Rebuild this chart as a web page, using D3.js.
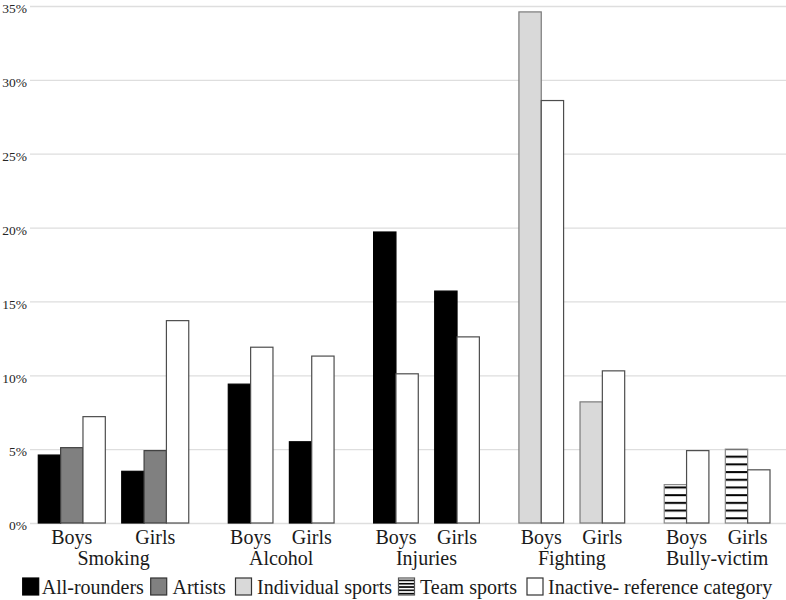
<!DOCTYPE html>
<html lang="en">
<head>
<meta charset="utf-8">
<title>Risk behaviours by activity profile</title>
<script src="https://d3js.org/d3.v7.min.js"></script>
</head>
<body style="margin:0; background:#fff">
<script type="text/javascript">

// Data - one value per group x sex, in the order Smoking Boys, Smoking Girls, Alcohol Boys, ...
const groups = ["Smoking", "Alcohol", "Injuries", "Fighting", "Bully-victim"];
const sexes = ["Boys", "Girls"];
const seriesNames = ["All-rounders", "Artists", "Individual sports", "Team sports", "Inactive- reference category"];

const allRounders      = [4.6, 3.5, 9.4, 5.5, 19.7, 15.7, null, null, null, null];
const artists          = [5.1, 4.9, null, null, null, null, null, null, null, null];
const individualSports = [null, null, null, null, null, null, 34.6, 8.2, null, null];
const teamSports       = [null, null, null, null, null, null, null, null, 2.6, 5.0];
const inactive         = [7.2, 13.7, 11.9, 11.3, 10.1, 12.6, 28.6, 10.3, 4.9, 3.6];

const yTicks = [0, 5, 10, 15, 20, 25, 30, 35];

// Consts
const w = 786;
const h = 600;
const serif = "'Liberation Serif'";
const seriesValues = [allRounders, artists, individualSports, teamSports, inactive];
const fills = ["#000000", "#808080", "#d9d9d9", "url(#stripes)", "#ffffff"];
const strokes = ["#000000", "#404040", "#7a7a7a", "#8a8a8a", "#4d4d4d"];
const smallGap = 0.735; // gap between Boys and Girls, in bar widths
const bigGap = 1.77;    // gap between groups, in bar widths

// layout in bar-width units
const bars = [];
const sexCenters = [];
const groupCenters = [];
let u = 0;
groups.forEach((g, gi) => {
    const gStart = u;
    sexes.forEach((s, si) => {
        if (si > 0) u += smallGap;
        const sStart = u;
        seriesValues.forEach((vals, k) => {
            const v = vals[gi * 2 + si];
            if (v !== null) {
                bars.push({ series: k, value: v, u: u });
                u += 1;
            }
        });
        sexCenters.push({ label: s, u: (sStart + u) / 2 });
    });
    groupCenters.push({ label: g, u: (gStart + u) / 2 });
    if (gi < groups.length - 1) u += bigGap;
});
const totalUnits = u;

// scales
const xScale = d3.scaleLinear()
    .domain([0, totalUnits])
    .range([38.3, 770]);

const yScale = d3.scaleLinear()
    .domain([0, 35])
    .range([523, 6]);

// SVG
const svg = d3.select("body")
    .append("svg")
    .attr("width", w)
    .attr("height", h)
    .style("display", "block");

// stripe patterns for Team sports
const defs = svg.append("defs");
const stripes = defs.append("pattern")
    .attr("id", "stripes")
    .attr("patternUnits", "userSpaceOnUse")
    .attr("x", 0)
    .attr("y", yScale(0))
    .attr("width", 8)
    .attr("height", 7.7);
stripes.append("rect").attr("width", 8).attr("height", 7.7).attr("fill", "#fff");
stripes.append("rect").attr("y", 2).attr("width", 8).attr("height", 2).attr("fill", "#000");

const legStripes = defs.append("pattern")
    .attr("id", "legstripes")
    .attr("patternUnits", "userSpaceOnUse")
    .attr("x", 0)
    .attr("y", 578)
    .attr("width", 8)
    .attr("height", 3.3);
legStripes.append("rect").attr("width", 8).attr("height", 3.3).attr("fill", "#fff");
legStripes.append("rect").attr("y", 1.6).attr("width", 8).attr("height", 1.6).attr("fill", "#000");

// gridlines + y labels
const leftAxis = d3.axisLeft(yScale)
    .tickValues(yTicks)
    .tickFormat(d => d + "%")
    .tickSize(-(w - 30))
    .tickPadding(3);

svg.append("g")
    .attr("transform", "translate(30,0)")
    .call(leftAxis)
    .call(g => g.select(".domain").remove())
    .call(g => g.selectAll(".tick line").attr("stroke", "#dedede").attr("stroke-width", 1.3))
    .call(g => g.selectAll("text")
        .attr("dy", "0.5em")
        .attr("fill", "#262626")
        .style("font-family", serif)
        .style("font-size", "13.5px"));

// bars
svg.append("g")
    .selectAll("rect")
    .data(bars)
    .join("rect")
    .attr("x", d => xScale(d.u))
    .attr("width", d => xScale(d.u + 1) - xScale(d.u))
    .attr("y", d => yScale(d.value))
    .attr("height", d => yScale(0) - yScale(d.value))
    .attr("fill", d => fills[d.series])
    .attr("stroke", d => strokes[d.series])
    .attr("stroke-width", 1.2);

// category labels
svg.append("g")
    .selectAll("text")
    .data(sexCenters)
    .join("text")
    .attr("x", d => xScale(d.u))
    .attr("y", 544)
    .attr("text-anchor", "middle")
    .attr("fill", "#1a1a1a")
    .style("font-family", serif)
    .style("font-size", "20px")
    .text(d => d.label);

svg.append("g")
    .selectAll("text")
    .data(groupCenters)
    .join("text")
    .attr("x", d => xScale(d.u))
    .attr("y", 565)
    .attr("text-anchor", "middle")
    .attr("fill", "#1a1a1a")
    .style("font-family", serif)
    .style("font-size", "20px")
    .text(d => d.label);

// legend
const legendX = [22.7, 150.7, 235.5, 398.5, 527];
const legendTextX = [41.7, 172.5, 257, 420, 548];
const legFills = ["#000000", "#808080", "#d9d9d9", "url(#legstripes)", "#ffffff"];
const legStrokes = ["#000000", "#333333", "#333333", "#555555", "#333333"];
const legend = svg.append("g");
seriesNames.forEach((name, i) => {
    legend.append("rect")
        .attr("x", legendX[i])
        .attr("y", 578)
        .attr("width", 16)
        .attr("height", 17)
        .attr("fill", legFills[i])
        .attr("stroke", legStrokes[i])
        .attr("stroke-width", 1.2);
    legend.append("text")
        .attr("x", legendTextX[i])
        .attr("y", 594)
        .attr("fill", "#1a1a1a")
        .style("font-family", serif)
        .style("font-size", "20px")
        .text(name);
});

</script>
</body>
</html>
